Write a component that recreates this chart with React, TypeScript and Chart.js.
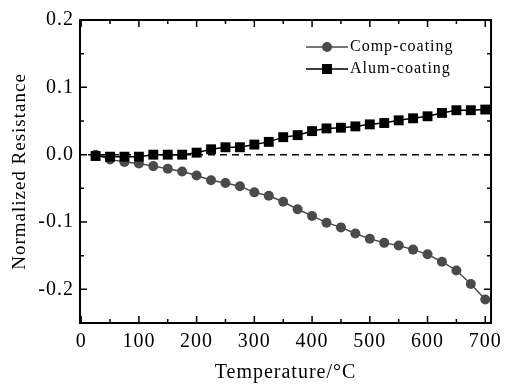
import React, { useEffect, useRef } from 'react';
import { Chart, registerables } from 'chart.js';

Chart.register(...registerables);

const temperatures = [25, 50, 75, 100, 125, 150, 175, 200, 225, 250, 275, 300, 325, 350, 375, 400, 425, 450, 475, 500, 525, 550, 575, 600, 625, 650, 675, 700];
const compCoating = [0.0, -0.007, -0.011, -0.013, -0.017, -0.021, -0.025, -0.031, -0.038, -0.042, -0.047, -0.056, -0.061, -0.07, -0.081, -0.091, -0.101, -0.108, -0.117, -0.125, -0.131, -0.135, -0.141, -0.148, -0.159, -0.172, -0.192, -0.215];
const alumCoating = [-0.002, -0.003, -0.003, -0.003, 0.0, 0.0, 0.0, 0.003, 0.008, 0.011, 0.011, 0.015, 0.019, 0.026, 0.029, 0.035, 0.039, 0.04, 0.042, 0.045, 0.047, 0.051, 0.054, 0.057, 0.062, 0.066, 0.066, 0.067];
const xTickValues = [0, 100, 200, 300, 400, 500, 600, 700];
const xMinorValues = [50, 150, 250, 350, 450, 550, 650];
const yTickValues = [-0.2, -0.1, 0.0, 0.1, 0.2];
const yMinorValues = [-0.15, -0.05, 0.05, 0.15];
const seriesNames = ['Comp-coating', 'Alum-coating'];

const FONT = "'Liberation Serif', 'Times New Roman', serif";
const COMP_COLOR = '#4a4a4a';
const ALUM_COLOR = '#000000';

const spacingPlugin = {
  id: 'spacing',
  beforeLayout(chart: any) {
    chart.ctx.letterSpacing = '1px';
  },
  beforeDraw(chart: any) {
    chart.ctx.letterSpacing = '1px';
  },
};

const framePlugin = {
  id: 'frame',
  beforeDatasetsDraw(chart: any) {
    const { ctx, chartArea, scales } = chart;
    const y0 = scales.y.getPixelForValue(0);
    ctx.save();
    ctx.strokeStyle = '#000';
    ctx.lineWidth = 1.5;
    ctx.setLineDash([7, 5]);
    ctx.beginPath();
    ctx.moveTo(chartArea.left + 8, y0);
    ctx.lineTo(chartArea.right, y0);
    ctx.stroke();
    ctx.restore();
  },
  afterDatasetsDraw(chart: any) {
    const { ctx, chartArea, scales } = chart;
    const { left, right, top, bottom } = chartArea;
    ctx.save();
    ctx.strokeStyle = '#000';
    ctx.lineWidth = 2;
    ctx.setLineDash([]);
    ctx.strokeRect(left, top, right - left, bottom - top);
    ctx.lineWidth = 1.5;
    ctx.beginPath();
    const tickX = (vals: number[], len: number) => {
      vals.forEach((v) => {
        const px = scales.x.getPixelForValue(v);
        ctx.moveTo(px, bottom);
        ctx.lineTo(px, bottom - len);
        ctx.moveTo(px, top);
        ctx.lineTo(px, top + len);
      });
    };
    const tickY = (vals: number[], len: number) => {
      vals.forEach((v) => {
        const py = scales.y.getPixelForValue(v);
        ctx.moveTo(left, py);
        ctx.lineTo(left + len, py);
        ctx.moveTo(right, py);
        ctx.lineTo(right - len, py);
      });
    };
    tickX(xTickValues, 7);
    tickX(xMinorValues, 4);
    tickY(yTickValues, 7);
    tickY(yMinorValues, 4);
    ctx.stroke();
    ctx.restore();
  },
  afterDraw(chart: any) {
    const { ctx, chartArea } = chart;
    const lx0 = chartArea.left + 226;
    const lx1 = chartArea.left + 268;
    const mx = (lx0 + lx1) / 2;
    const rows = [chartArea.top + 27, chartArea.top + 49];
    const colors = [COMP_COLOR, ALUM_COLOR];
    ctx.save();
    ctx.letterSpacing = '1px';
    rows.forEach((ry, i) => {
      ctx.strokeStyle = colors[i];
      ctx.fillStyle = colors[i];
      ctx.lineWidth = 1.5;
      ctx.beginPath();
      ctx.moveTo(lx0, ry);
      ctx.lineTo(lx1, ry);
      ctx.stroke();
      ctx.beginPath();
      if (i === 0) {
        ctx.arc(mx, ry, 5, 0, Math.PI * 2);
      } else {
        ctx.rect(mx - 5, ry - 5, 10, 10);
      }
      ctx.fill();
      ctx.fillStyle = '#000';
      ctx.font = `16px ${FONT}`;
      ctx.textAlign = 'left';
      ctx.textBaseline = 'middle';
      ctx.fillText(seriesNames[i], lx1 + 2, ry);
    });
    ctx.restore();
  },
};

export default function App() {
  const ref = useRef<HTMLCanvasElement>(null);
  useEffect(() => {
    const compData = temperatures.map((t, i) => ({ x: t, y: compCoating[i] }));
    const alumData = temperatures.map((t, i) => ({ x: t, y: alumCoating[i] }));
    const chart = new Chart(ref.current as HTMLCanvasElement, {
      type: 'line',
      data: {
        datasets: [
          {
            label: seriesNames[0],
            data: compData,
            borderColor: COMP_COLOR,
            backgroundColor: COMP_COLOR,
            borderWidth: 1.5,
            pointStyle: 'circle',
            pointRadius: 5,
            pointBorderWidth: 0,
            pointBackgroundColor: COMP_COLOR,
            tension: 0,
            order: 2,
          },
          {
            label: seriesNames[1],
            data: alumData,
            borderColor: ALUM_COLOR,
            backgroundColor: ALUM_COLOR,
            borderWidth: 1.5,
            pointStyle: 'rect',
            pointRadius: 7,
            pointBorderWidth: 0,
            pointBackgroundColor: ALUM_COLOR,
            tension: 0,
            order: 1,
          },
        ],
      },
      options: {
        animation: false,
        responsive: true,
        maintainAspectRatio: false,
        layout: { padding: { top: 20, right: 17, left: 0, bottom: 0 } },
        plugins: {
          legend: { display: false },
          tooltip: { enabled: false },
        },
        scales: {
          x: {
            type: 'linear',
            min: -2,
            max: 710,
            grid: { display: false, drawTicks: false },
            border: { display: false },
            afterBuildTicks: (s: any) => {
              s.ticks = xTickValues.map((v) => ({ value: v }));
            },
            afterFit: (s: any) => {
              s.height = 62;
            },
            ticks: {
              autoSkip: false,
              maxRotation: 0,
              padding: 7,
              color: '#000',
              font: { family: FONT, size: 20 },
              callback: (v: any) => String(v),
            },
            title: {
              display: true,
              text: 'Temperature/°C',
              color: '#000',
              font: { family: FONT, size: 20 },
              padding: { top: 0, bottom: 0 },
            },
          },
          y: {
            type: 'linear',
            min: -0.25,
            max: 0.2,
            grid: { display: false, drawTicks: false },
            border: { display: false },
            afterBuildTicks: (s: any) => {
              s.ticks = yTickValues.map((v) => ({ value: v }));
            },
            afterFit: (s: any) => {
              s.width = 80;
            },
            ticks: {
              autoSkip: false,
              padding: 6,
              color: '#000',
              font: { family: FONT, size: 20 },
              callback: (v: any) => Number(v).toFixed(1),
            },
            title: {
              display: true,
              text: 'Normalized Resistance',
              color: '#000',
              font: { family: FONT, size: 19 },
              padding: { top: 9, bottom: 0 },
            },
          },
        },
      },
      plugins: [spacingPlugin, framePlugin],
    } as any);
    return () => chart.destroy();
  }, []);
  return (
    <div style={{ position: 'fixed', left: 0, top: 0, width: 509, height: 385, background: '#fff' }}>
      <canvas ref={ref} />
    </div>
  );
}
